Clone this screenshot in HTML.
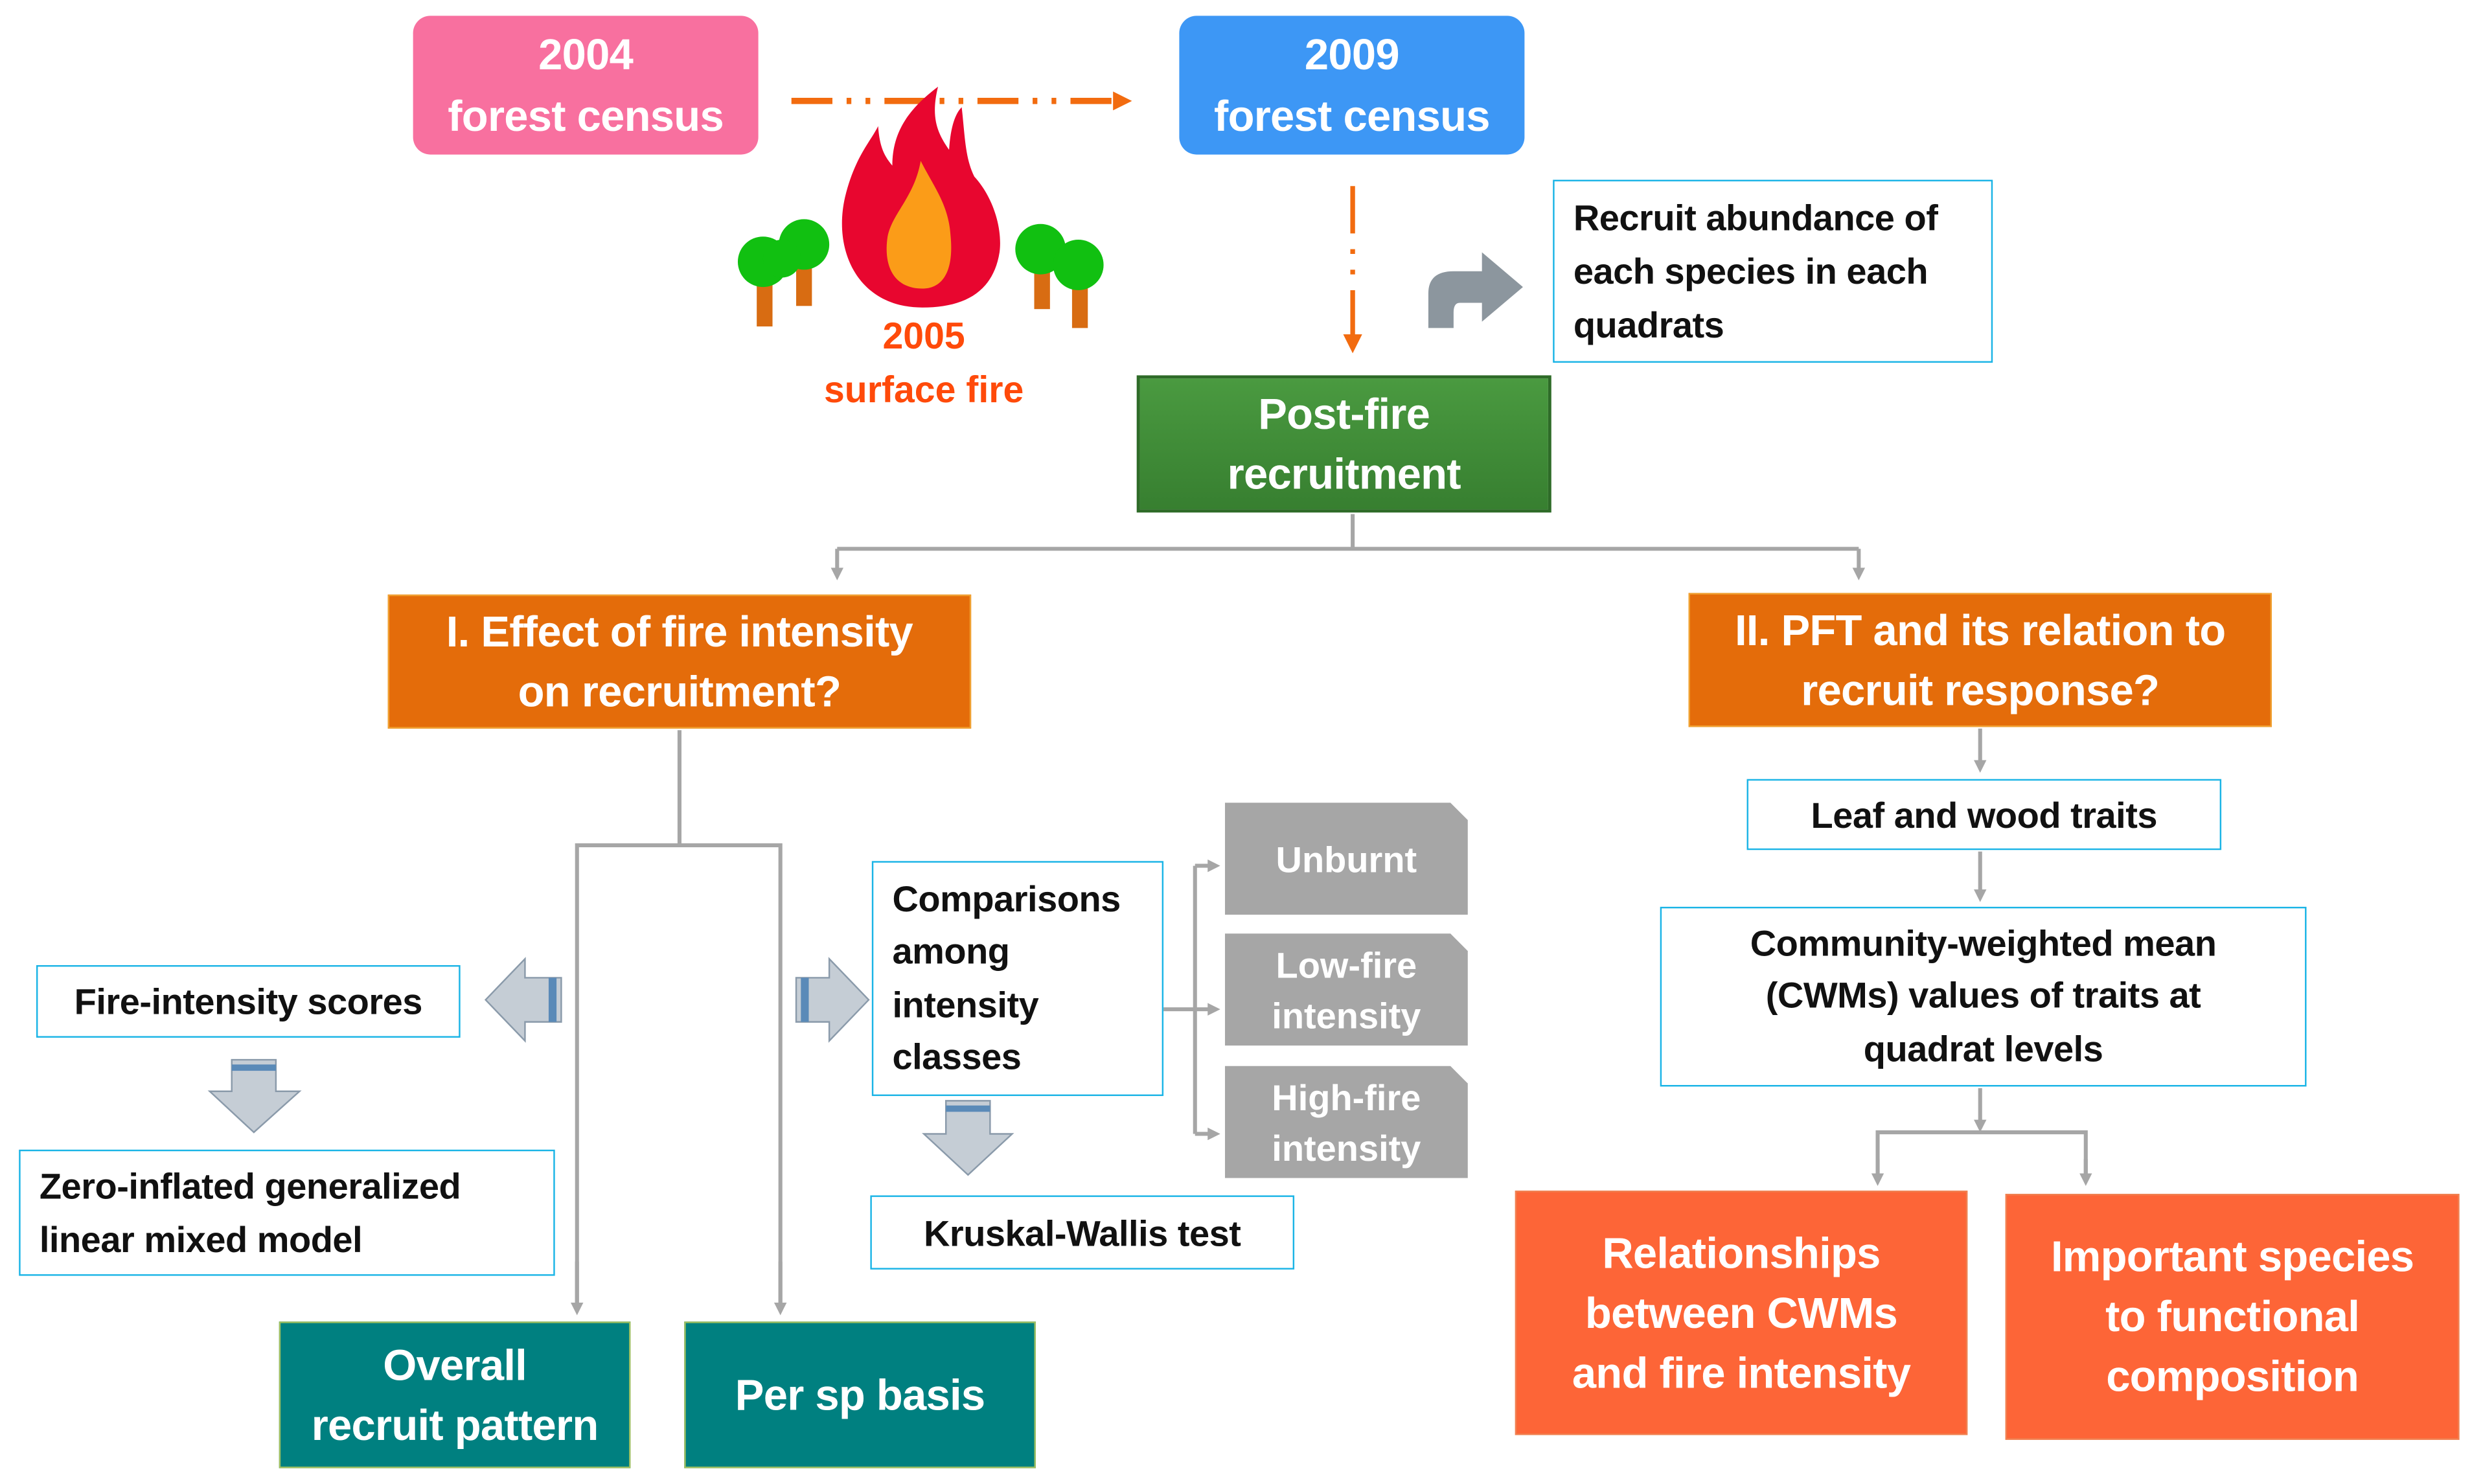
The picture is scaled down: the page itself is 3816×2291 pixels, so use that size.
<!DOCTYPE html>
<html><head><meta charset="utf-8">
<style>
html,body{margin:0;padding:0;background:#fff;}
body{width:3816px;height:2291px;overflow:hidden;position:relative;}
#w{position:absolute;left:0;top:0;width:1568px;height:941px;transform:scale(2.4337,2.4346);transform-origin:0 0;font-family:"Liberation Sans",sans-serif;font-weight:bold;}
.b{position:absolute;box-sizing:border-box;display:flex;align-items:center;justify-content:center;text-align:center;white-space:nowrap;}
.t{color:#fff;font-size:27.5px;line-height:38px;letter-spacing:-0.3px;}
.wb{background:#fff;border:1.5px solid #1ab4e6;color:#111;font-size:23px;line-height:34px;letter-spacing:-0.2px;}
.or{background:#e46c0a;border:1.5px solid #f0a030;}
.rd{background:#fd6537;border:1px solid #f08050;}
.tl{background:#008080;border:1px solid #a0c060;}
.gr{color:#fff;font-size:23px;line-height:32px;}
svg{position:absolute;left:0;top:0;}
</style></head><body><div id="w">
<svg width="1568" height="941" viewBox="0 0 1568 941">
<defs>
<marker id="ga" markerWidth="8" markerHeight="8" refX="4" refY="4" orient="auto" markerUnits="userSpaceOnUse"><path d="M0,0 L8,4 L0,8 z" fill="#a6a6a6"/></marker>
<marker id="oa" markerWidth="12" markerHeight="12" refX="6" refY="6" orient="auto" markerUnits="userSpaceOnUse"><path d="M0,0 L12,6 L0,12 z" fill="#f26b0f"/></marker>
</defs>
<line x1="502" y1="64" x2="712" y2="64" stroke="#f26b0f" stroke-width="4" stroke-dasharray="26,9,3,9,3,9" marker-end="url(#oa)"/>
<line x1="858" y1="118" x2="858" y2="218" stroke="#f26b0f" stroke-width="3" stroke-dasharray="30,10,3,10,3,10" marker-end="url(#oa)"/>
<path d="M585,195 C545,195 528,160 536,125 C542,100 552,90 557,80 C558,95 562,100 566,105 C566,85 575,70 595,55 C590,75 595,85 602,95 C603,80 606,72 610,68 C612,85 612,100 618,112 C630,125 636,145 634,160 C630,185 612,195 585,195 Z" fill="#e8062f"/>
<path d="M585,183 C568,183 560,170 563,150 C566,135 580,125 584,102 C592,118 602,130 603,150 C605,172 598,183 585,183 Z" fill="#fb9c18"/>
<rect x="480" y="177" width="10" height="30" fill="#d86c12"/><rect x="505" y="162" width="10" height="32" fill="#d86c12"/>
<circle cx="510" cy="155" r="16" fill="#11c011"/><circle cx="484" cy="166" r="16" fill="#11c011"/><circle cx="496" cy="164" r="12" fill="#11c011"/>
<rect x="656" y="170" width="10" height="26" fill="#d86c12"/><rect x="680" y="177" width="10" height="31" fill="#d86c12"/>
<circle cx="660" cy="158" r="16" fill="#11c011"/><circle cx="684" cy="168" r="16" fill="#11c011"/>
<path d="M906,208 L906,186 Q906,172 922,172 L940,172 L940,160 L966,182 L940,204 L940,192 L926,192 Q922,192 922,198 L922,208 Z" fill="#8c969e"/>
<g stroke="#a6a6a6" stroke-width="2.5" fill="none">
<line x1="858" y1="326" x2="858" y2="348"/>
<line x1="531" y1="348" x2="1179" y2="348"/>
<line x1="531" y1="348" x2="531" y2="364" marker-end="url(#ga)"/>
<line x1="1179" y1="348" x2="1179" y2="364" marker-end="url(#ga)"/>
<line x1="431" y1="463" x2="431" y2="536"/>
<polyline points="366,831 366,536 495,536 495,831"/>
<line x1="366" y1="800" x2="366" y2="830" marker-end="url(#ga)"/>
<line x1="495" y1="800" x2="495" y2="830" marker-end="url(#ga)"/>
<line x1="738" y1="640" x2="770" y2="640" marker-end="url(#ga)"/>
<line x1="758" y1="549" x2="758" y2="719"/>
<line x1="758" y1="549" x2="770" y2="549" marker-end="url(#ga)"/>
<line x1="758" y1="719" x2="770" y2="719" marker-end="url(#ga)"/>
<line x1="1256" y1="462" x2="1256" y2="486" marker-end="url(#ga)"/>
<line x1="1256" y1="540" x2="1256" y2="568" marker-end="url(#ga)"/>
<line x1="1256" y1="690" x2="1256" y2="714" marker-end="url(#ga)"/>
<polyline points="1191,749 1191,718 1323,718 1323,749"/>
<line x1="1191" y1="735" x2="1191" y2="748" marker-end="url(#ga)"/>
<line x1="1323" y1="735" x2="1323" y2="748" marker-end="url(#ga)"/>
</g>
<g fill="#c5cdd5" stroke="#8a9aaa" stroke-width="1">
<path d="M308,634 L333,608 L333,620 L356,620 L356,648 L333,648 L333,660 Z"/>
<path d="M551,634 L526,608 L526,620 L505,620 L505,648 L526,648 L526,660 Z"/>
<path d="M161,718 L133,692 L147,692 L147,672 L175,672 L175,692 L190,692 Z"/>
<path d="M614,745 L586,719 L600,719 L600,698 L628,698 L628,719 L642,719 Z"/>
</g>
<g fill="#5a8ab8"><rect x="348" y="620" width="5" height="28"/><rect x="508" y="620" width="5" height="28"/><rect x="147" y="675" width="28" height="4"/><rect x="600" y="701" width="28" height="4"/></g>
<g fill="#a6a6a6">
<path d="M777,509 L920,509 L931,520 L931,580 L777,580 Z"/>
<path d="M777,592 L920,592 L931,603 L931,663 L777,663 Z"/>
<path d="M777,676 L920,676 L931,687 L931,747 L777,747 Z"/>
</g>
</svg>
<div class="b t" style="left:262px;top:10px;width:219px;height:88px;background:#f8709f;border-radius:11px;line-height:39px;">2004<br>forest census</div>
<div class="b t" style="left:748px;top:10px;width:219px;height:88px;background:#3d97f5;border-radius:11px;line-height:39px;">2009<br>forest census</div>
<div class="b" style="left:500px;top:196px;width:172px;height:68px;color:#ff4a0a;font-size:23.5px;line-height:34px;">2005<br>surface fire</div>
<div class="b wb" style="left:985px;top:114px;width:279px;height:116px;justify-content:flex-start;text-align:left;padding-left:12px;">Recruit abundance of<br>each species in each<br>quadrats</div>
<div class="b t" style="left:721px;top:238px;width:263px;height:87px;background:linear-gradient(#4a9a40,#377f30);border:2px solid #2e6b28;">Post-fire<br>recruitment</div>
<div class="b t or" style="left:246px;top:377px;width:370px;height:85px;">I. Effect of fire intensity<br>on recruitment?</div>
<div class="b t or" style="left:1071px;top:376px;width:370px;height:85px;">II. PFT and its relation to<br>recruit response?</div>
<div class="b wb" style="left:23px;top:612px;width:269px;height:46px;">Fire-intensity scores</div>
<div class="b wb" style="left:12px;top:729px;width:340px;height:80px;justify-content:flex-start;text-align:left;padding-left:12px;">Zero-inflated generalized<br>linear mixed model</div>
<div class="b wb" style="left:553px;top:546px;width:185px;height:149px;justify-content:flex-start;text-align:left;padding-left:12px;line-height:33.5px;">Comparisons<br>among<br>intensity<br>classes</div>
<div class="b wb" style="left:552px;top:758px;width:269px;height:47px;">Kruskal-Wallis test</div>
<div class="b gr" style="left:777px;top:509px;width:154px;height:71px;">Unburnt</div>
<div class="b gr" style="left:777px;top:592px;width:154px;height:71px;">Low-fire<br>intensity</div>
<div class="b gr" style="left:777px;top:676px;width:154px;height:71px;">High-fire<br>intensity</div>
<div class="b t tl" style="left:177px;top:838px;width:223px;height:93px;">Overall<br>recruit pattern</div>
<div class="b t tl" style="left:434px;top:838px;width:223px;height:93px;">Per sp basis</div>
<div class="b wb" style="left:1108px;top:494px;width:301px;height:45px;">Leaf and wood traits</div>
<div class="b wb" style="left:1053px;top:575px;width:410px;height:114px;line-height:33.5px;">Community-weighted mean<br>(CWMs) values of traits at<br>quadrat levels</div>
<div class="b t rd" style="left:961px;top:755px;width:287px;height:155px;">Relationships<br>between CWMs<br>and fire intensity</div>
<div class="b t rd" style="left:1272px;top:757px;width:288px;height:156px;">Important species<br>to functional<br>composition</div>
</div></body></html>
